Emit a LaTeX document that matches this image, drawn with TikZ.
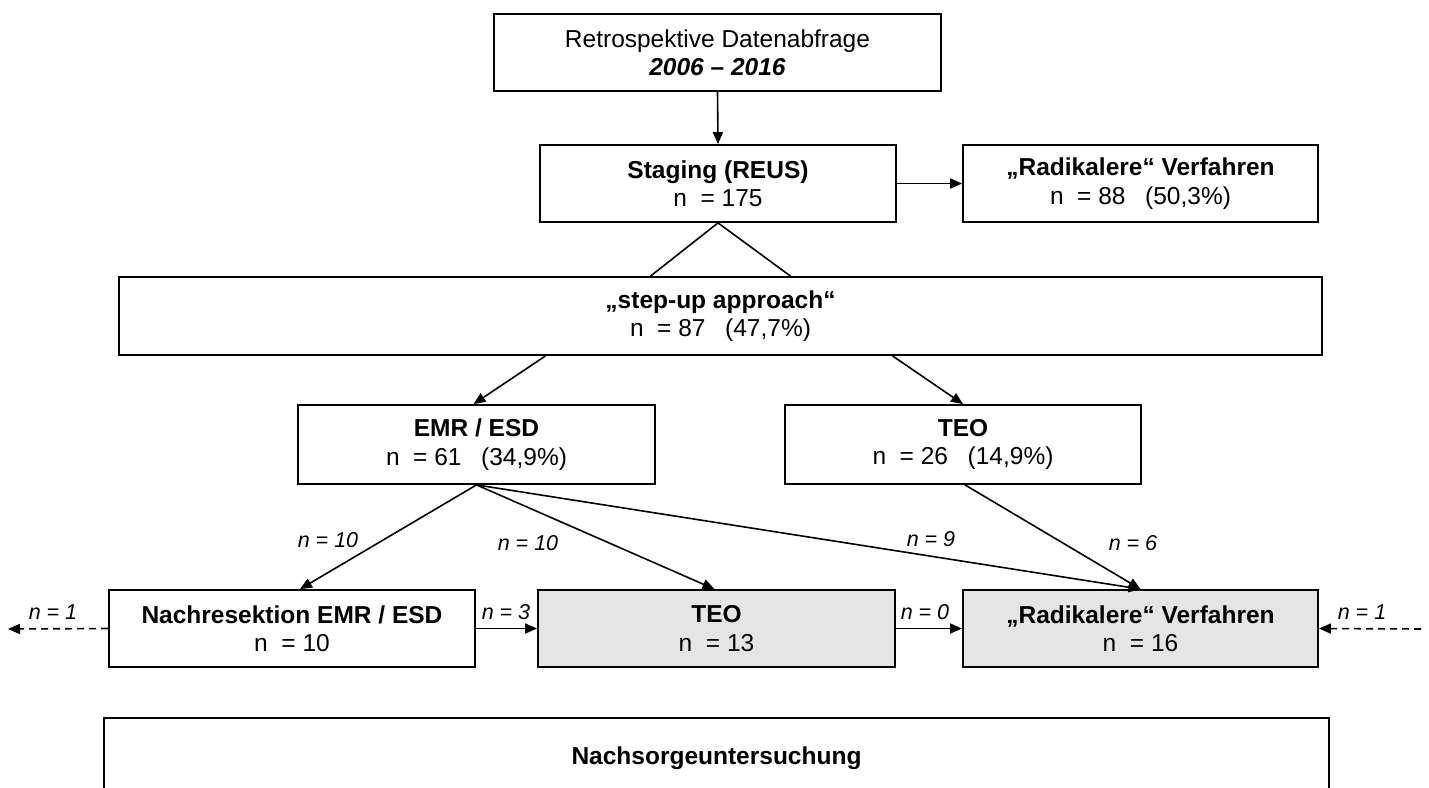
\documentclass[tikz,border=0pt]{standalone}
\usepackage{fontspec}
\setmainfont{Liberation Sans}
\usetikzlibrary{arrows.meta,calc}
\begin{document}
\begin{tikzpicture}[x=1pt,y=-1pt,
  font=\fontsize{24.5}{28.5}\selectfont,
  box/.style={draw, line width=1.8pt, align=center, inner sep=0pt},
  grey/.style={fill=black!10},
  arr/.style={line width=1.6pt, -{Triangle[length=12pt,width=10pt]}},
  ln/.style={line width=1.6pt},
  lab/.style={font=\fontsize{21.5}{24}\selectfont\itshape, inner sep=0pt}]
\useasboundingbox (0,0) rectangle (1429,787);
\clip (0,0) rectangle (1429,787);
\node[box, minimum width=447pt, minimum height=77pt] (retro) at (717.5,52.5)
  {Retrospektive Datenabfrage\\\textbf{\textit{2006 -- 2016}}};
\node[box, minimum width=356pt, minimum height=77pt] (staging) at (718,183.5)
  {\textbf{Staging (REUS)}\\n\ \ = 175};
\node[box, minimum width=355pt, minimum height=77pt] (rad1) at (1140.5,183.5)
  {\textbf{„Radikalere“ Verfahren}\\n\ \ = 88\hspace{0.8em}(50,3\%)};
\node[box, minimum width=1203pt, minimum height=78pt] (stepup) at (720.5,316)
  {\textbf{„step-up approach“}\\n\ \ = 87\hspace{0.8em}(47,7\%)};
\node[box, minimum width=357pt, minimum height=79pt] (emr) at (476.5,444.5)
  {\textbf{EMR / ESD}\\n\ \ = 61\hspace{0.8em}(34,9\%)};
\node[box, minimum width=356pt, minimum height=79pt] (teo1) at (963,444.5)
  {\textbf{TEO}\\n\ \ = 26\hspace{0.8em}(14,9\%)};
\node[box, minimum width=366pt, minimum height=77pt] (nach) at (292,628.5)
  {\textbf{Nachresektion EMR / ESD}\\n\ \ = 10};
\node[box, grey, minimum width=357pt, minimum height=77pt] (teo2) at (716.5,628.5)
  {\textbf{TEO}\\n\ \ = 13};
\node[box, grey, minimum width=355pt, minimum height=77pt] (rad2) at (1140.5,628.5)
  {\textbf{„Radikalere“ Verfahren}\\n\ \ = 16};
\node[box, minimum width=1225pt, minimum height=120pt, anchor=north] (nachsorge) at (716.5,717)
  {};
\node[font=\fontsize{24.5}{28}\selectfont\bfseries] (nstext) at (716.5,758) {Nachsorgeuntersuchung};
\coordinate (lout) at (8,629);
\coordinate (rin) at (1421,629);
% connectors
\draw[arr] (retro.south) -- (staging.north);
\draw[arr] (staging.east) -- (rad1.west);
\draw[ln] (staging.south) -- ([xshift=-70pt]stepup.north);
\draw[ln] (staging.south) -- ([xshift=70pt]stepup.north);
\draw[arr] ([xshift=-175pt]stepup.south) -- ([xshift=-3pt]emr.north);
\draw[arr] ([xshift=172pt]stepup.south) -- (teo1.north);
\draw[arr] (emr.south) -- ([xshift=8pt]nach.north);
\draw[arr] (emr.south) -- ([xshift=-2pt]teo2.north);
\draw[arr] (emr.south) -- (rad2.north);
\draw[arr] ([xshift=2pt]teo1.south) -- (rad2.north);
\draw[arr] (nach.east) -- (teo2.west);
\draw[arr] (teo2.east) -- (rad2.west);
\draw[arr, dash pattern=on 7pt off 5pt] (nach.west) -- (lout);
\draw[arr, dash pattern=on 7pt off 5pt] (rin) -- (rad2.east);
% labels
\node[lab] (l1) at (328,540) {n = 10};
\node[lab] (l2) at (528,543) {n = 10};
\node[lab] (l3) at (931,539) {n = 9};
\node[lab] (l4) at (1133,543) {n = 6};
\node[lab] (l5) at (53,612) {n = 1};
\node[lab] (l6) at (506,612) {n = 3};
\node[lab] (l7) at (925,612) {n = 0};
\node[lab] (l8) at (1362,612) {n = 1};
\end{tikzpicture}
\end{document}
